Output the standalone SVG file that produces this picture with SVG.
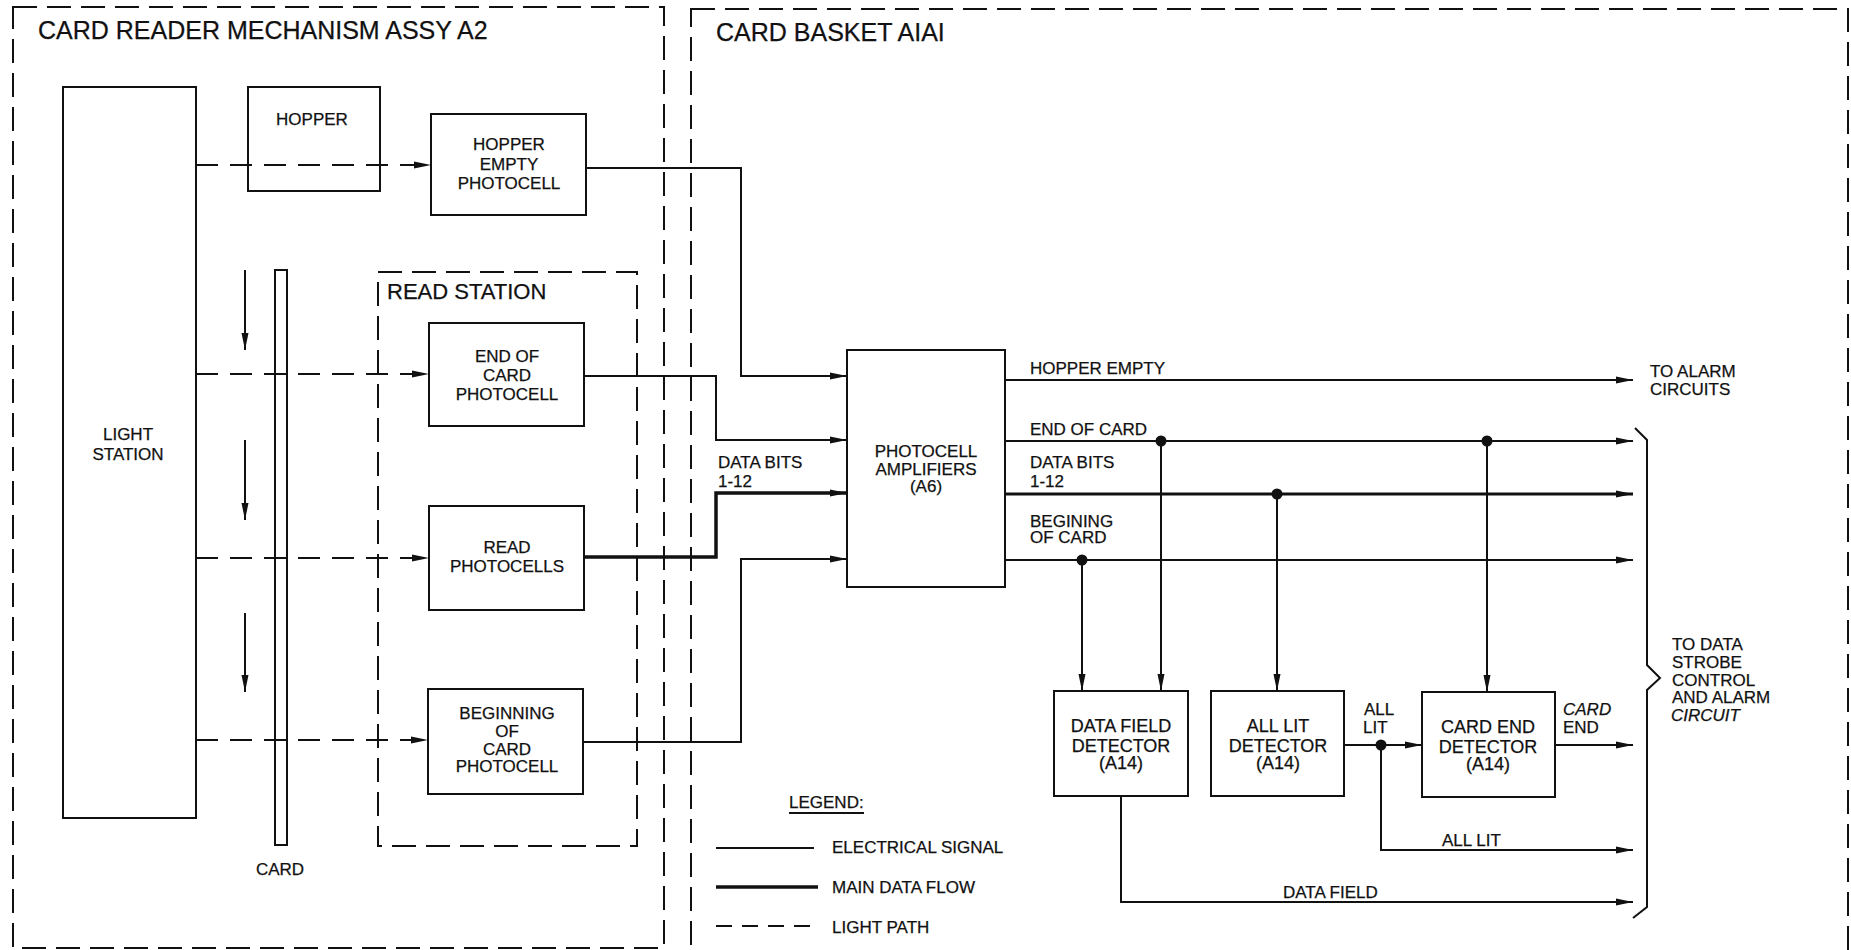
<svg xmlns="http://www.w3.org/2000/svg" width="1851" height="950" viewBox="0 0 1851 950">
<defs>
<style>
text{font-family:"Liberation Sans",Arial,sans-serif;fill:#111;stroke:#111;stroke-width:0.25;}
.t{font-size:17px;text-anchor:middle;}
.td{font-size:18px;text-anchor:middle;}
.l{font-size:17px;}
.title{font-size:25px;}
.box{fill:none;stroke:#111;stroke-width:2;}
.grp{fill:none;stroke:#111;stroke-width:2;stroke-dasharray:24 10;}
.w{fill:none;stroke:#111;stroke-width:2;}
.thick{fill:none;stroke:#111;stroke-width:3.5;}
.light{fill:none;stroke:#111;stroke-width:2;stroke-dasharray:22 12;}
.dot{fill:#111;}
</style>
<marker id="ah" markerUnits="userSpaceOnUse" markerWidth="18" markerHeight="8" refX="17" refY="4" orient="auto">
<path d="M0,0.5 L17,4 L0,7.5 z" fill="#111"/>
</marker>
</defs>
<rect width="1851" height="950" fill="#fff"/>

<g id="group-card-reader">
<rect class="grp" x="13" y="7" width="651" height="941"/>
<text class="title" x="38" y="39">CARD READER MECHANISM ASSY A2</text>
</g>
<g id="group-card-basket">
<rect class="grp" x="691" y="9" width="1157" height="960"/>
<text class="title" x="716" y="41">CARD BASKET AIAI</text>
</g>
<g id="group-read-station">
<rect class="grp" x="378" y="272" width="259" height="574"/>
<text x="387" y="299" style="font-size:22px">READ STATION</text>
</g>

<g id="light-station">
<rect class="box" x="63" y="87" width="133" height="731"/>
<text class="t" x="128" y="440">LIGHT</text>
<text class="t" x="128" y="460">STATION</text>
</g>
<g id="card">
<rect class="box" x="275" y="270" width="12" height="575"/>
<text class="t" x="280" y="875">CARD</text>
</g>
<g id="hopper">
<rect class="box" x="248" y="87" width="132" height="104"/>
<text class="t" x="312" y="125">HOPPER</text>
</g>
<g id="hopper-empty-photocell">
<rect class="box" x="431" y="114" width="155" height="101"/>
<text class="t" x="509" y="150">HOPPER</text>
<text class="t" x="509" y="170">EMPTY</text>
<text class="t" x="509" y="189">PHOTOCELL</text>
</g>
<g id="end-of-card-photocell">
<rect class="box" x="429" y="323" width="155" height="103"/>
<text class="t" x="507" y="362">END OF</text>
<text class="t" x="507" y="381">CARD</text>
<text class="t" x="507" y="400">PHOTOCELL</text>
</g>
<g id="read-photocells">
<rect class="box" x="429" y="506" width="155" height="104"/>
<text class="t" x="507" y="553">READ</text>
<text class="t" x="507" y="572">PHOTOCELLS</text>
</g>
<g id="beginning-of-card-photocell">
<rect class="box" x="428" y="689" width="155" height="105"/>
<text class="t" x="507" y="719">BEGINNING</text>
<text class="t" x="507" y="737">OF</text>
<text class="t" x="507" y="755">CARD</text>
<text class="t" x="507" y="772">PHOTOCELL</text>
</g>
<g id="photocell-amplifiers">
<rect class="box" x="847" y="350" width="158" height="237"/>
<text class="t" x="926" y="457">PHOTOCELL</text>
<text class="t" x="926" y="475">AMPLIFIERS</text>
<text class="t" x="926" y="492">(A6)</text>
</g>
<g id="data-field-detector">
<rect class="box" x="1054" y="691" width="134" height="105"/>
<text class="td" x="1121" y="732">DATA FIELD</text>
<text class="td" x="1121" y="752">DETECTOR</text>
<text class="td" x="1121" y="769">(A14)</text>
</g>
<g id="all-lit-detector">
<rect class="box" x="1211" y="691" width="133" height="105"/>
<text class="td" x="1278" y="732">ALL LIT</text>
<text class="td" x="1278" y="752">DETECTOR</text>
<text class="td" x="1278" y="769">(A14)</text>
</g>
<g id="card-end-detector">
<rect class="box" x="1422" y="692" width="133" height="105"/>
<text class="td" x="1488" y="733">CARD END</text>
<text class="td" x="1488" y="753">DETECTOR</text>
<text class="td" x="1488" y="770">(A14)</text>
</g>

<g id="connectors">
<path class="light" d="M196,165 H431" marker-end="url(#ah)"/>
<path class="light" d="M196,374 H429" marker-end="url(#ah)"/>
<path class="light" d="M196,558 H429" marker-end="url(#ah)"/>
<path class="light" d="M196,740 H428" marker-end="url(#ah)"/>
<path class="w" d="M245,270 V350" marker-end="url(#ah)"/>
<path class="w" d="M245,440 V520" marker-end="url(#ah)"/>
<path class="w" d="M245,613 V692" marker-end="url(#ah)"/>

<path class="w" d="M586,168 H741 V376 H847" marker-end="url(#ah)"/>
<path class="w" d="M584,376 H716 V440 H847" marker-end="url(#ah)"/>
<path class="thick" d="M584,557 H716 V493 H847" marker-end="url(#ah)"/>
<path class="w" d="M583,742 H741 V559 H847" marker-end="url(#ah)"/>

<path class="w" d="M1005,380 H1633" marker-end="url(#ah)"/>
<path class="w" d="M1005,441 H1633" marker-end="url(#ah)"/>
<path class="thick" d="M1005,494 H1633" style="stroke-width:3" marker-end="url(#ah)"/>
<path class="w" d="M1005,560 H1633" marker-end="url(#ah)"/>

<path class="w" d="M1082,560 V691" marker-end="url(#ah)"/>
<path class="w" d="M1161,441 V691" marker-end="url(#ah)"/>
<path class="w" d="M1277,494 V691" marker-end="url(#ah)"/>
<path class="w" d="M1487,441 V692" marker-end="url(#ah)"/>

<path class="w" d="M1344,745 H1422" marker-end="url(#ah)"/>
<path class="w" d="M1381,745 V850 H1633" marker-end="url(#ah)"/>
<path class="w" d="M1555,745 H1633" marker-end="url(#ah)"/>
<path class="w" d="M1121,796 V902 H1633" marker-end="url(#ah)"/>

<circle class="dot" cx="1161" cy="441" r="5.5"/>
<circle class="dot" cx="1487" cy="441" r="5.5"/>
<circle class="dot" cx="1277" cy="494" r="5.5"/>
<circle class="dot" cx="1082" cy="560" r="5.5"/>
<circle class="dot" cx="1381" cy="745" r="5.5"/>

<path class="w" d="M1635,428 L1647,440 V665 L1660,678 L1647,690 V907 L1633,918"/>
</g>

<g id="labels">
<text class="l" x="718" y="468">DATA BITS</text>
<text class="l" x="718" y="487">1-12</text>
<text class="l" x="1030" y="374">HOPPER EMPTY</text>
<text class="l" x="1030" y="435">END OF CARD</text>
<text class="l" x="1030" y="468">DATA BITS</text>
<text class="l" x="1030" y="487">1-12</text>
<text class="l" x="1030" y="527">BEGINING</text>
<text class="l" x="1030" y="543">OF CARD</text>
<text class="l" x="1650" y="377">TO ALARM</text>
<text class="l" x="1650" y="395">CIRCUITS</text>
<text class="l" x="1672" y="650">TO DATA</text>
<text class="l" x="1672" y="668">STROBE</text>
<text class="l" x="1672" y="686">CONTROL</text>
<text class="l" x="1672" y="703">AND ALARM</text>
<text class="l" x="1671" y="721" font-style="italic">CIRCUIT</text>
<text class="l" x="1364" y="715">ALL</text>
<text class="l" x="1363" y="733">LIT</text>
<text class="l" x="1563" y="715" font-style="italic">CARD</text>
<text class="l" x="1563" y="733">END</text>
<text class="l" x="1442" y="846">ALL LIT</text>
<text class="l" x="1283" y="898">DATA FIELD</text>
</g>

<g id="legend">
<text class="l" x="789" y="808">LEGEND:</text>
<line class="w" x1="789" y1="813" x2="864" y2="813"/>
<line class="w" x1="716" y1="848" x2="814" y2="848"/>
<text class="l" x="832" y="853">ELECTRICAL SIGNAL</text>
<line class="thick" x1="716" y1="887" x2="818" y2="887"/>
<text class="l" x="832" y="893">MAIN DATA FLOW</text>
<line class="light" x1="716" y1="926" x2="818" y2="926" style="stroke-dasharray:16 10"/>
<text class="l" x="832" y="933">LIGHT PATH</text>
</g>
</svg>
